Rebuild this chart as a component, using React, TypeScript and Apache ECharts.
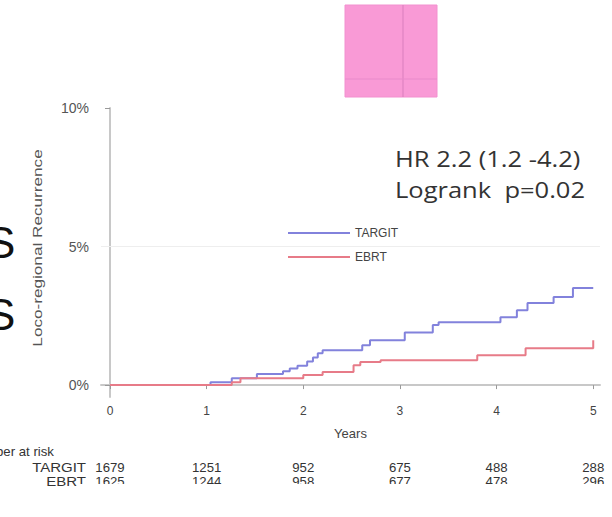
import React, { useEffect, useRef } from "react";
import * as echarts from "echarts";

const targitYears = [0, 1.04, 1.26, 1.52, 1.79, 1.86, 1.94, 2.04, 2.1, 2.15, 2.2, 2.61, 2.69, 3.05, 3.34, 3.4, 4.04, 4.21, 4.32, 4.59, 4.79, 5.0];
const targitPct = [0, 0.1, 0.25, 0.4, 0.5, 0.6, 0.7, 0.85, 1.0, 1.15, 1.26, 1.44, 1.62, 1.9, 2.17, 2.27, 2.45, 2.7, 2.96, 3.18, 3.5, 3.5];
const ebrtYears = [0, 1.26, 1.35, 2.0, 2.2, 2.52, 2.59, 2.8, 3.8, 4.3, 5.0];
const ebrtPct = [0, 0.1, 0.25, 0.36, 0.47, 0.72, 0.83, 0.9, 1.08, 1.33, 1.62];

const xTicks = [0, 1, 2, 3, 4, 5];
const yTicks = [0, 5, 10];
const riskTargit = ["1679", "1251", "952", "675", "488", "288"];
const riskEbrt = ["1625", "1244", "958", "677", "478", "296"];

const FONT = "Liberation Sans";

export default function App() {
  const ref = useRef<HTMLDivElement>(null);
  useEffect(() => {
    const chart = echarts.init(ref.current!, null, { renderer: "svg" });
    const xMin = -0.093;
    const xMax = 5.07;
    const gridLeft = 101;
    const gridRight = 12;
    const plotW = 612 - gridLeft - gridRight;
    const xPix = (v: number) => gridLeft + ((v - xMin) / (xMax - xMin)) * plotW;

    const riskTexts: any[] = [];
    xTicks.forEach((t, i) => {
      riskTexts.push({
        type: "text",
        x: xPix(t),
        y: 468,
        scaleX: 1.1,
        style: { text: riskTargit[i], font: `12px "${FONT}"`, fill: "#333", align: "center", verticalAlign: "middle" },
      });
      riskTexts.push({
        type: "text",
        x: xPix(t),
        y: 482,
        scaleX: 1.1,
        style: { text: riskEbrt[i], font: `12px "${FONT}"`, fill: "#333", align: "center", verticalAlign: "middle" },
      });
    });

    chart.setOption({
      animation: false,
      backgroundColor: "#ffffff",
      grid: { left: gridLeft, right: gridRight, top: 108, bottom: 120 },
      legend: {
        left: 283,
        top: 222,
        orient: "vertical",
        icon: "rect",
        itemWidth: 62,
        itemHeight: 2,
        itemGap: 12,
        textStyle: { fontFamily: FONT, fontSize: 12, color: "#444" },
        data: ["TARGIT", "EBRT"],
      },
      xAxis: {
        type: "value",
        min: xMin,
        max: xMax,
        name: "Years",
        nameLocation: "middle",
        nameGap: 30,
        nameTextStyle: { fontFamily: FONT, fontSize: 13, color: "#444" },
        axisLine: { show: true, lineStyle: { color: "#c8c8c8", width: 2 } },
        axisTick: { show: true, customValues: xTicks, length: 4, inside: false, lineStyle: { color: "#999" } },
        axisLabel: { customValues: xTicks, fontFamily: FONT, fontSize: 12, color: "#444", margin: 8 },
        splitLine: { show: false },
      },
      yAxis: {
        type: "value",
        min: -0.43,
        max: 10,
        axisLine: { show: true, lineStyle: { color: "#c8c8c8", width: 2 } },
        axisTick: { show: true, customValues: yTicks, length: 5, lineStyle: { color: "#999" } },
        axisLabel: {
          customValues: yTicks,
          formatter: (v: number) => `${v}%`,
          fontFamily: FONT,
          fontSize: 14,
          color: "#555",
          margin: 12,
        },
        splitLine: { show: false },
      },
      series: [
        {
          name: "TARGIT",
          type: "line",
          step: "end",
          showSymbol: false,
          symbol: "none",
          lineStyle: { color: "#8282dc", width: 2 },
          itemStyle: { color: "#8282dc" },
          data: targitYears.map((y, i) => [y, targitPct[i]]),
          markLine: {
            silent: true,
            symbol: "none",
            label: { show: false },
            lineStyle: { color: "#eeeeee", type: "solid", width: 1 },
            data: [{ yAxis: 5 }],
          },
        },
        {
          name: "EBRT",
          type: "line",
          step: "end",
          showSymbol: false,
          symbol: "none",
          lineStyle: { color: "#e77b88", width: 2 },
          itemStyle: { color: "#e77b88" },
          data: ebrtYears.map((y, i) => [y, ebrtPct[i]]),
        },
      ],
      graphic: [
        { type: "rect", shape: { x: 345, y: 5, width: 92, height: 92 }, style: { fill: "#f99ad6", stroke: "#f290cf", lineWidth: 1 } },
        { type: "line", shape: { x1: 403, y1: 5, x2: 403, y2: 97 }, style: { stroke: "#d97fbd", lineWidth: 1 } },
        { type: "line", shape: { x1: 345, y1: 79, x2: 437, y2: 79 }, style: { stroke: "#e88acb", lineWidth: 1 } },
        {
          type: "text",
          x: 395,
          y: 159,
          scaleX: 1.16,
          style: { text: "HR 2.2 (1.2 -4.2)", font: `22px "Open Sans"`, fill: "#333", align: "left", verticalAlign: "middle" },
        },
        {
          type: "text",
          x: 395,
          y: 190,
          scaleX: 1.16,
          style: { text: "Logrank  p=0.02", font: `22px "Open Sans"`, fill: "#333", align: "left", verticalAlign: "middle" },
        },
        {
          type: "text",
          x: 38,
          y: 248,
          rotation: Math.PI / 2,
          scaleX: 1.43,
          style: { text: "Loco-regional Recurrence", font: `12px "${FONT}"`, fill: "#555", align: "center", verticalAlign: "middle" },
        },
        { type: "text", x: -14, y: 242, style: { text: "S", font: `44px "${FONT}"`, fill: "#111", align: "left", verticalAlign: "middle" } },
        { type: "text", x: -14, y: 314, style: { text: "S", font: `44px "${FONT}"`, fill: "#111", align: "left", verticalAlign: "middle" } },
        { type: "text", x: -4, y: 452, scaleX: 1.1, style: { text: "ber at risk", font: `12px "${FONT}"`, fill: "#333", align: "left", verticalAlign: "middle" } },
        { type: "text", x: 86, y: 468, scaleX: 1.25, style: { text: "TARGIT", font: `12px "${FONT}"`, fill: "#333", align: "right", verticalAlign: "middle" } },
        { type: "text", x: 86, y: 482, scaleX: 1.25, style: { text: "EBRT", font: `12px "${FONT}"`, fill: "#333", align: "right", verticalAlign: "middle" } },
        ...riskTexts,
        { type: "rect", z: 100, shape: { x: 79, y: 484, width: 540, height: 40 }, style: { fill: "#ffffff" } },
      ],
    });
    return () => chart.dispose();
  }, []);
  return <div ref={ref} style={{ position: "fixed", left: 0, top: 0, width: 612, height: 517 }} />;
}
